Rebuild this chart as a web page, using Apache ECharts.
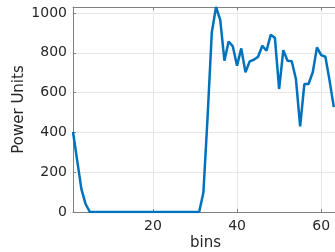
<!DOCTYPE html>
<html>
<head>
<meta charset="utf-8">
<script src="https://cdn.jsdelivr.net/npm/echarts@6/dist/echarts.min.js"></script>
<style>
  html, body { margin: 0; padding: 0; background: #fff; }
  #main { width: 335px; height: 252px; }
</style>
</head>
<body>
<div id="main"></div>
<script>
// power per bin (x = 1..63)
const bins = [];
for (let i = 1; i <= 63; i++) bins.push(i);
const power = [
  402, 258, 115, 40, 0, 0, 0, 0, 0, 0,
  0, 0, 0, 0, 0, 0, 0, 0, 0, 0,
  0, 0, 0, 0, 0, 0, 0, 0, 0, 0,
  0, 98, 480, 902, 1030, 965, 760, 857, 832, 735,
  822, 702, 757, 765, 780, 835, 810, 890, 875, 618,
  813, 760, 757, 668, 430, 643, 643, 702, 827, 788,
  780, 660, 527
]
const yTicks = [0, 200, 400, 600, 800, 1000]

const fontFamily = 'DejaVu Sans'
const axisGray = '#808080'
const textColor = '#262626'

const chart = echarts.init(document.getElementById('main'), null, { renderer: 'canvas' })

const option = {
  animation: false,
  grid: { left: 73, right: -3, top: 7, bottom: 40, containLabel: false, outerBoundsMode: 'none' },
  xAxis: [
    {
      type: 'value',
      min: 1,
      max: 64,
      splitNumber: 3,
      name: 'bins',
      nameLocation: 'middle',
      nameGap: 24,
      nameMoveOverlap: false,
      nameTextStyle: { fontFamily, fontSize: 15, color: textColor },
      axisLine: { lineStyle: { color: axisGray, width: 1 } },
      axisTick: { inside: true, length: 3, lineStyle: { color: axisGray } },
      axisLabel: { fontFamily, fontSize: 14, color: textColor, margin: 7, showMinLabel: false, showMaxLabel: false },
      splitLine: { show: true, lineStyle: { color: '#e6e6e6', width: 1 } }
    },
    {
      type: 'value',
      position: 'top',
      min: 1,
      max: 64,
      splitNumber: 3,
      axisLine: { show: true, lineStyle: { color: axisGray, width: 1 } },
      axisTick: { inside: true, length: 3, lineStyle: { color: axisGray } },
      axisLabel: { show: false },
      splitLine: { show: false }
    }
  ],
  yAxis: {
    type: 'value',
    min: yTicks[0],
    max: 1030,
    interval: 200,
    name: 'Power Units',
    nameLocation: 'middle',
    nameGap: 46,
    nameMoveOverlap: false,
    nameTextStyle: { fontFamily, fontSize: 15, color: textColor },
    axisLine: { show: true, lineStyle: { color: axisGray, width: 1 } },
    axisTick: { show: true, inside: true, length: 3, lineStyle: { color: axisGray } },
    axisLabel: { fontFamily, fontSize: 14, color: textColor, margin: 6, showMaxLabel: false, formatter: v => String(v) },
    splitLine: { show: true, lineStyle: { color: '#e6e6e6', width: 1 } }
  },
  series: [
    {
      type: 'line',
      xAxisIndex: 0,
      data: bins.map((b, i) => [b, power[i]]),
      showSymbol: false,
      lineStyle: { color: '#0072BD', width: 2.5 },
      itemStyle: { color: '#0072BD' }
    }
  ]
}

chart.setOption(option)
</script>
</body>
</html>
